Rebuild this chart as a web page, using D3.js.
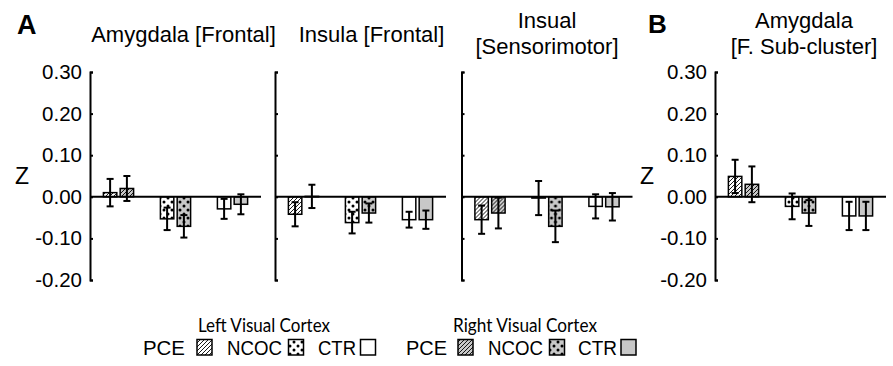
<!DOCTYPE html>
<html>
<head>
<meta charset="utf-8">
<script src="https://cdn.jsdelivr.net/npm/d3@7"></script>
<style>
  body { margin: 0; background: #fff; }
  svg { display: block; font-family: "Liberation Sans", Arial, sans-serif; }
</style>
</head>
<body>
<div id="chart"></div>
<script>
// Data (order: PCE-L, PCE-R, NCOC-L, NCOC-R, CTR-L, CTR-R)
const groups = ["PCE", "NCOC", "CTR"];
const sides = ["Left Visual Cortex", "Right Visual Cortex"];
const yTicks = [0.3, 0.2, 0.1, 0.0, -0.1, -0.2];

const amygFrontalMean = [0.010, 0.020, -0.053, -0.071, -0.029, -0.018];
const amygFrontalErr = [0.033, 0.030, 0.027, 0.027, 0.024, 0.024];
const insulaFrontalMean = [-0.042, 0.001, -0.062, -0.039, -0.055, -0.055];
const insulaFrontalErr = [0.029, 0.028, 0.026, 0.023, 0.019, 0.022];
const insualSensMean = [-0.055, -0.039, -0.003, -0.071, -0.023, -0.024];
const insualSensErr = [0.034, 0.037, 0.041, 0.038, 0.029, 0.033];
const amygSubMean = [0.049, 0.030, -0.023, -0.039, -0.046, -0.046];
const amygSubErr = [0.040, 0.043, 0.031, 0.031, 0.034, 0.034];

const panelTitles = [
  ["Amygdala [Frontal]"],
  ["Insula [Frontal]"],
  ["Insual", "[Sensorimotor]"],
  ["Amygdala", "[F. Sub-cluster]"]
];
const panelMeans = [amygFrontalMean, insulaFrontalMean, insualSensMean, amygSubMean];
const panelErrs = [amygFrontalErr, insulaFrontalErr, insualSensErr, amygSubErr];

// Layout
const panelX = [90, 275, 461.5, 715];
const titleX = [183.5, 371.5, 547, 804];
const showLabels = [true, false, false, true];
const panelW = 171;
const grey = "#c8c8c8";

const svg = d3.select("#chart").append("svg")
  .attr("width", 893)
  .attr("height", 366);

// Patterns
const defs = svg.append("defs");
[["white", "hatchL"], [grey, "hatchR"]].forEach(([bg, id]) => {
  const p = defs.append("pattern").attr("id", id)
    .attr("patternUnits", "userSpaceOnUse").attr("width", 4).attr("height", 4);
  p.append("rect").attr("width", 4).attr("height", 4).attr("fill", bg);
  p.append("path").attr("d", "M-1,1 l2,-2 M0,4 l4,-4 M3,5 l2,-2")
    .attr("stroke", "#000").attr("stroke-width", 0.9);
});
[["white", "dotsL"], [grey, "dotsR"]].forEach(([bg, id]) => {
  const p = defs.append("pattern").attr("id", id)
    .attr("patternUnits", "userSpaceOnUse").attr("width", 8).attr("height", 8);
  p.append("rect").attr("width", 8).attr("height", 8).attr("fill", bg);
  p.append("circle").attr("cx", 2).attr("cy", 2).attr("r", 1.5).attr("fill", "#000");
  p.append("circle").attr("cx", 6).attr("cy", 6).attr("r", 1.5).attr("fill", "#000");
});
const fills = {
  PCE: ["url(#hatchL)", "url(#hatchR)"],
  NCOC: ["url(#dotsL)", "url(#dotsR)"],
  CTR: ["white", grey]
};

// Scales
const yScale = d3.scaleLinear().domain([-0.2, 0.3]).range([280, 72]);
const xGroup = d3.scaleBand().domain(groups).range([0, panelW])
  .paddingInner(0.47).paddingOuter(0.235);
const xSide = d3.scaleBand().domain(sides).range([0, xGroup.bandwidth()])
  .paddingInner(0.2);
const fmt = (v) => d3.format(".2f")(v).replace("−", "-");

panelMeans.forEach((means, pi) => {
  const g = svg.append("g").attr("transform", `translate(${panelX[pi]},0)`);

  const rows = [];
  groups.forEach((grp, gi) => {
    sides.forEach((side, si) => {
      rows.push({ grp, side, si, mean: means[gi * 2 + si], err: panelErrs[pi][gi * 2 + si] });
    });
  });

  // Axis
  const yAxis = d3.axisLeft(yScale)
    .tickValues(yTicks)
    .tickSizeInner(-3)
    .tickSizeOuter(-3)
    .tickPadding(8)
    .tickFormat(showLabels[pi] ? fmt : () => "");
  const ax = g.append("g").call(yAxis);
  ax.select(".domain").attr("stroke-width", 2);
  ax.selectAll(".tick line").attr("stroke-width", 2);
  ax.selectAll(".tick text")
    .attr("font-size", 20.5)
    .attr("font-family", "Liberation Sans, Arial, sans-serif")
    .attr("fill", "#000");

  // Bars
  g.selectAll(".bar").data(rows).enter().append("rect")
    .attr("class", "bar")
    .attr("x", (d) => xGroup(d.grp) + xSide(d.side))
    .attr("y", (d) => yScale(Math.max(0, d.mean)))
    .attr("width", xSide.bandwidth())
    .attr("height", (d) => Math.abs(yScale(d.mean) - yScale(0)))
    .attr("fill", (d) => fills[d.grp][d.si])
    .attr("stroke", "#000")
    .attr("stroke-width", 1.5);

  // Error bars
  const eb = g.selectAll(".err").data(rows).enter().append("g").attr("class", "err")
    .attr("transform", (d) => `translate(${xGroup(d.grp) + xSide(d.side) + xSide.bandwidth() / 2},0)`)
    .attr("stroke", "#000").attr("stroke-width", 2);
  eb.append("line")
    .attr("y1", (d) => yScale(d.mean + d.err))
    .attr("y2", (d) => yScale(d.mean - d.err));
  eb.append("line").attr("x1", -3.5).attr("x2", 3.5)
    .attr("y1", (d) => yScale(d.mean + d.err)).attr("y2", (d) => yScale(d.mean + d.err));
  eb.append("line").attr("x1", -3.5).attr("x2", 3.5)
    .attr("y1", (d) => yScale(d.mean - d.err)).attr("y2", (d) => yScale(d.mean - d.err));

  // Zero line
  g.append("line")
    .attr("x1", 0).attr("x2", panelW)
    .attr("y1", yScale(0)).attr("y2", yScale(0))
    .attr("stroke", "#000").attr("stroke-width", 2);

  // Title
  const lines = panelTitles[pi];
  const baseY = lines.length === 1 ? 42 : 28;
  lines.forEach((t, li) => {
    svg.append("text")
      .attr("x", titleX[pi])
      .attr("y", baseY + li * 26)
      .attr("text-anchor", "middle")
      .attr("font-size", 22)
      .text(t);
  });

  // Z label
  if (showLabels[pi]) {
    svg.append("text")
      .attr("x", panelX[pi] - 68)
      .attr("y", 184)
      .attr("text-anchor", "middle")
      .attr("font-size", 23)
      .text("Z");
  }
});

// Panel letters
svg.append("text").attr("x", 17).attr("y", 34)
  .attr("font-size", 27).attr("font-weight", "bold").text("A");
svg.append("text").attr("x", 648).attr("y", 33)
  .attr("font-size", 26).attr("font-weight", "bold").text("B");

// Legend
const legendHeads = [
  { text: sides[0], x: 264, w: 132 },
  { text: sides[1], x: 525, w: 144 }
];
svg.selectAll(".lhead").data(legendHeads).enter().append("text")
  .attr("class", "lhead")
  .attr("x", (d) => d.x).attr("y", 332)
  .attr("text-anchor", "middle")
  .attr("font-family", "Lato, 'Open Sans', sans-serif")
  .attr("font-size", 19.5)
  .attr("textLength", (d) => d.w)
  .attr("lengthAdjust", "spacingAndGlyphs")
  .text((d) => d.text);

const legendItems = [
  { grp: "PCE", si: 0, tx: 143, sx: 197, w: 42 },
  { grp: "NCOC", si: 0, tx: 227, sx: 288.5, w: 55 },
  { grp: "CTR", si: 0, tx: 318, sx: 360.5, w: 38 },
  { grp: "PCE", si: 1, tx: 406, sx: 458, w: 41 },
  { grp: "NCOC", si: 1, tx: 488, sx: 549.5, w: 55 },
  { grp: "CTR", si: 1, tx: 578, sx: 621, w: 39 }
];
svg.selectAll(".ltext").data(legendItems).enter().append("text")
  .attr("class", "ltext")
  .attr("x", (d) => d.tx).attr("y", 354.5)
  .attr("font-size", 20)
  .attr("textLength", (d) => d.w)
  .attr("lengthAdjust", "spacingAndGlyphs")
  .text((d) => d.grp);
svg.selectAll(".lbox").data(legendItems).enter().append("rect")
  .attr("class", "lbox")
  .attr("x", (d) => d.sx).attr("y", 339.5)
  .attr("width", 15).attr("height", 15.5)
  .attr("fill", (d) => fills[d.grp][d.si])
  .attr("stroke", "#000").attr("stroke-width", 1.5);
</script>
</body>
</html>
